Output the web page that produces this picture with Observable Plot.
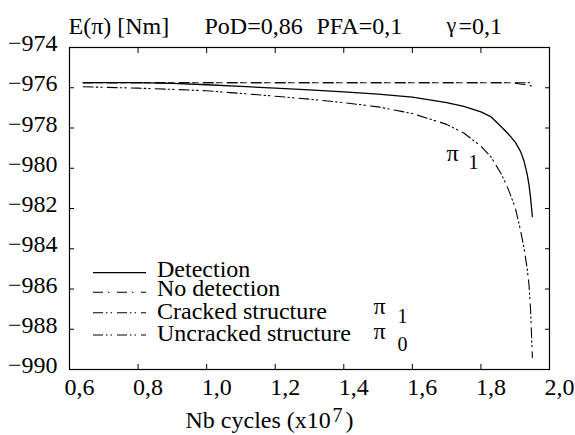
<!DOCTYPE html>
<html><head><meta charset="utf-8">
<script src="https://cdn.jsdelivr.net/npm/d3@7"></script>
<script src="https://cdn.jsdelivr.net/npm/@observablehq/plot@0.6"></script>
<style>body{margin:0;background:#fff}</style>
</head><body><div id="chart"></div>
<script>
// Nb cycles (x10^7)
const cycles      = [0.64, 0.8, 0.9, 1.0, 1.1, 1.2, 1.3, 1.4, 1.5, 1.6, 1.7, 1.75, 1.8, 1.83, 1.86, 1.88, 1.9, 1.915, 1.925, 1.935, 1.94, 1.945, 1.95];
const detection   = [-975.75, -975.75, -975.78, -975.85, -975.93, -976.02, -976.11, -976.21, -976.32, -976.47, -976.74, -976.93, -977.2, -977.45, -977.95, -978.3, -978.7, -979.15, -979.6, -980.3, -980.8, -981.5, -982.4];
const noDetection = [-975.75, -975.75, -975.75, -975.75, -975.75, -975.75, -975.75, -975.75, -975.75, -975.75, -975.75, -975.75, -975.75, -975.75, -975.75, -975.75, -975.78, -975.81, -975.84, -975.87, -975.88, -975.9, -975.92];
const cracked     = [-975.95, -976.02, -976.08, -976.15, -976.28, -976.42, -976.57, -976.74, -976.95, -977.28, -977.82, -978.25, -978.9, -979.45, -980.3, -981.05, -981.95, -983.05, -983.9, -985.0, -985.75, -987.1, -989.4];
const uncracked   = [-975.75, -975.75, -975.75, -975.75, -975.75, -975.75, -975.75, -975.75, -975.75, -975.75, -975.75, -975.75, -975.75, -975.75, -975.75, -975.75, -975.75, -975.75, -975.75, -975.75, -975.75, -975.75, -975.75];
const seriesNames = ["Detection", "No detection", "Cracked structure", "Uncracked structure"];
const xTicks = [0.6, 0.8, 1.0, 1.2, 1.4, 1.6, 1.8, 2.0];
const yTicks = [-974, -976, -978, -980, -982, -984, -986, -988, -990];
const headerTexts = ["E(\u03c0) [Nm]", "PoD=0,86", "PFA=0,1", "\u03b3", "=0,1"];
const xLabelParts = ["Nb cycles (x10", "7", ")"];

const FONT = "Liberation Serif";
const seriesValues = [detection, noDetection, cracked, uncracked];
const dashes = {
  "Detection": null,
  "No detection": "10,5,1.5,7.5",
  "Cracked structure": "10,3,1.5,3,1.5,5",
  "Uncracked structure": "10,3,1.5,3,1.5,5"
};
const rows = [];
seriesNames.forEach((s, i) => cycles.forEach((c, j) => rows.push({series: s, x: c, y: seriesValues[i][j]})));

const fmtX = d => d.toFixed(1).replace(".", ",");
const fmtY = d => "\u2212" + Math.abs(d);

// text placed relative to the frame's top-left corner (69, 47)
const note = (str, dx, dy, size = 24) => Plot.text([str], {
  text: d => d, frameAnchor: "top-left", dx, dy, textAnchor: "start", lineAnchor: "bottom",
  fontFamily: FONT, fontSize: size, fill: "#000"
});

const plot = Plot.plot({
  width: 575, height: 435,
  marginLeft: 69, marginRight: 26, marginTop: 47, marginBottom: 66,
  x: {domain: [0.6, 2.0]},
  y: {domain: [-990, -974]},
  marks: [
    Plot.frame({stroke: "#000", strokeWidth: 1.2}),
    Plot.axisX({anchor: "bottom", ticks: xTicks, tickSize: -5, tickFormat: () => "", label: null}),
    Plot.axisX({anchor: "top", ticks: xTicks, tickSize: -5, tickFormat: () => "", label: null}),
    Plot.axisX({anchor: "bottom", ticks: xTicks, tickSize: 0, tickPadding: 8, tickFormat: fmtX, dx: 10, label: null, fontFamily: FONT, fontSize: 24}),
    Plot.axisY({anchor: "left", ticks: yTicks, tickSize: -5, tickFormat: () => "", label: null}),
    Plot.axisY({anchor: "right", ticks: yTicks, tickSize: -5, tickFormat: () => "", label: null}),
    Plot.axisY({anchor: "left", ticks: yTicks, tickSize: 0, tickPadding: 12, tickFormat: fmtY, dy: -4, label: null, fontFamily: FONT, fontSize: 24}),
    ...seriesNames.map(s => Plot.line(rows.filter(r => r.series === s), {
      x: "x", y: "y", stroke: "#000",
      strokeWidth: s === "Detection" ? 1.3 : 1.1,
      strokeDasharray: dashes[s]
    })),
    // header
    note(headerTexts[0], -1, -14),
    note(headerTexts[1], 135, -14),
    note(headerTexts[2], 247, -14),
    note(headerTexts[3], 377, -16, 22),
    note(headerTexts[4], 389, -14),
    // x label
    note(xLabelParts[0], 116, 380),
    note(xLabelParts[1], 263, 374, 20),
    note(xLabelParts[2], 276, 380),
    // curve annotation
    note("\u03c0", 377, 113),
    note("1", 399, 121, 20),
    // legend
    ...seriesNames.map((s, i) => note(s, 87.5, [229.7, 248.7, 271, 293.7][i])),
    note("\u03c0", 304, 266),
    note("1", 328, 275, 20),
    note("\u03c0", 304, 291),
    note("0", 328, 303, 20)
  ]
});
document.getElementById("chart").appendChild(plot);

// legend line samples
const svg = d3.select(plot);
const legendY = [272.7, 292.3, 312.7, 335];
seriesNames.forEach((s, i) => {
  const l = svg.append("line").attr("x1", 93).attr("x2", 146)
    .attr("y1", legendY[i]).attr("y2", legendY[i])
    .attr("stroke", "#000").attr("stroke-width", s === "Detection" ? 1.3 : 1.1);
  if (dashes[s]) l.attr("stroke-dasharray", dashes[s]);
});
</script>
</body></html>
